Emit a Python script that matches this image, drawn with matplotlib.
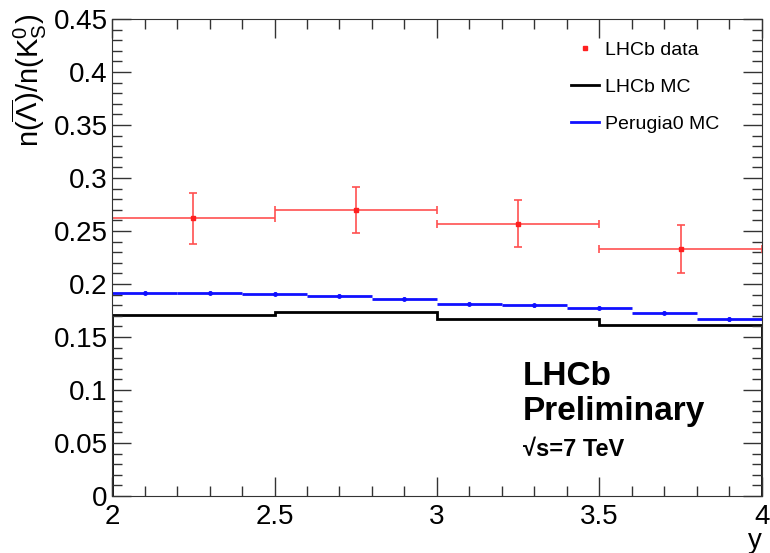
import numpy as np
import matplotlib
matplotlib.use("Agg")
import matplotlib.pyplot as plt
from matplotlib.ticker import MultipleLocator
from matplotlib.lines import Line2D

plt.rcParams['font.family'] = ['Liberation Sans', 'DejaVu Sans']
plt.rcParams['mathtext.fontset'] = 'custom'
plt.rcParams['mathtext.rm'] = 'Liberation Sans'
plt.rcParams['mathtext.it'] = 'Liberation Sans'

# Data
data_edges = [2.0, 2.5, 3.0, 3.5, 4.0]
data_vals = [0.262, 0.270, 0.257, 0.233]
data_errs = [0.024, 0.022, 0.022, 0.023]

lhcbmc_edges = [2.0, 2.5, 3.0, 3.5, 4.0]
lhcbmc_vals = [0.171, 0.1735, 0.167, 0.161]

perugia_edges = [2.0, 2.2, 2.4, 2.6, 2.8, 3.0, 3.2, 3.4, 3.6, 3.8, 4.0]
perugia_vals = [0.192, 0.192, 0.191, 0.189, 0.186, 0.1815, 0.180, 0.1775, 0.173, 0.167]
perugia_errs = [0.0015] * 10

fig = plt.figure(figsize=(7.7, 5.53), dpi=100)
ax = fig.add_axes([0.1455, 0.103, 0.844, 0.8625])

# LHCb MC (black step)
e = np.array(lhcbmc_edges)
v = np.array(lhcbmc_vals)
ax.stairs(v, e, color='black', lw=2)

# Perugia0 MC (blue)
pe = np.array(perugia_edges)
pc = 0.5 * (pe[:-1] + pe[1:])
pw = 0.5 * np.diff(pe)
ax.errorbar(pc, perugia_vals, xerr=pw, yerr=perugia_errs, fmt='o', ms=2.5,
            color='#1010ff', ecolor='#1010ff', elinewidth=2, capsize=0)

# Data (red)
de = np.array(data_edges)
dc = 0.5 * (de[:-1] + de[1:])
dw = 0.5 * np.diff(de)
ax.errorbar(dc, data_vals, xerr=dw, yerr=data_errs, fmt='s', ms=2.5,
            color='#ff2020', ecolor='#ff5050', elinewidth=1.2, capsize=3, capthick=1.2)

ax.set_xlim(2, 4)
ax.set_ylim(0, 0.45)
ax.xaxis.set_major_locator(MultipleLocator(0.5))
ax.xaxis.set_minor_locator(MultipleLocator(0.1))
ax.yaxis.set_major_locator(MultipleLocator(0.05))
ax.yaxis.set_minor_locator(MultipleLocator(0.01))
ax.tick_params(which='both', direction='in', top=True, right=True, labelsize=20, color='#333333')
ax.tick_params(which='major', length=14, width=1)
ax.tick_params(which='minor', length=7, width=1)
ax.tick_params(axis='x', pad=6)
ax.tick_params(axis='y', pad=3)
ax.set_yticks([0, 0.05, 0.1, 0.15, 0.2, 0.25, 0.3, 0.35, 0.4, 0.45])
ax.set_yticklabels(['0', '0.05', '0.1', '0.15', '0.2', '0.25', '0.3', '0.35', '0.4', '0.45'])
ax.set_xticks([2, 2.5, 3, 3.5, 4])
ax.set_xticklabels(['2', '2.5', '3', '3.5', '4'])
for s in ax.spines.values():
    s.set_color('#333333')

ax.set_ylabel(r'n($\overline{\Lambda}$)/n(K$^{0}_{S}$)', fontsize=21, labelpad=2)
ax.yaxis.set_label_coords(-0.158, 1.01, transform=ax.transAxes)
ax.yaxis.label.set_va('top')
ax.yaxis.label.set_ha('right')
ax.set_xlabel('y', fontsize=20, loc='right', labelpad=-2)

handles = [
    Line2D([], [], marker='s', ms=2.5, color='#ff2020', lw=0),
    Line2D([], [], color='black', lw=2),
    Line2D([], [], color='#1010ff', lw=2),
]
leg = ax.legend(handles, ['LHCb data', 'LHCb MC', 'Perugia0 MC'], loc='upper left',
                bbox_to_anchor=(0.68, 0.99), frameon=False, fontsize=14,
                handlelength=1.4, labelspacing=1.0, handletextpad=0.35)

ax.text(0.632, 0.233, 'LHCb', transform=ax.transAxes, fontsize=24, fontweight='bold', va='baseline')
ax.text(0.632, 0.159, 'Preliminary', transform=ax.transAxes, fontsize=24, fontweight='bold', va='baseline')
ax.text(0.632, 0.084, '√s=7 TeV', transform=ax.transAxes, fontsize=17, fontweight='bold', va='baseline')

fig.savefig('out.png', dpi=100)
